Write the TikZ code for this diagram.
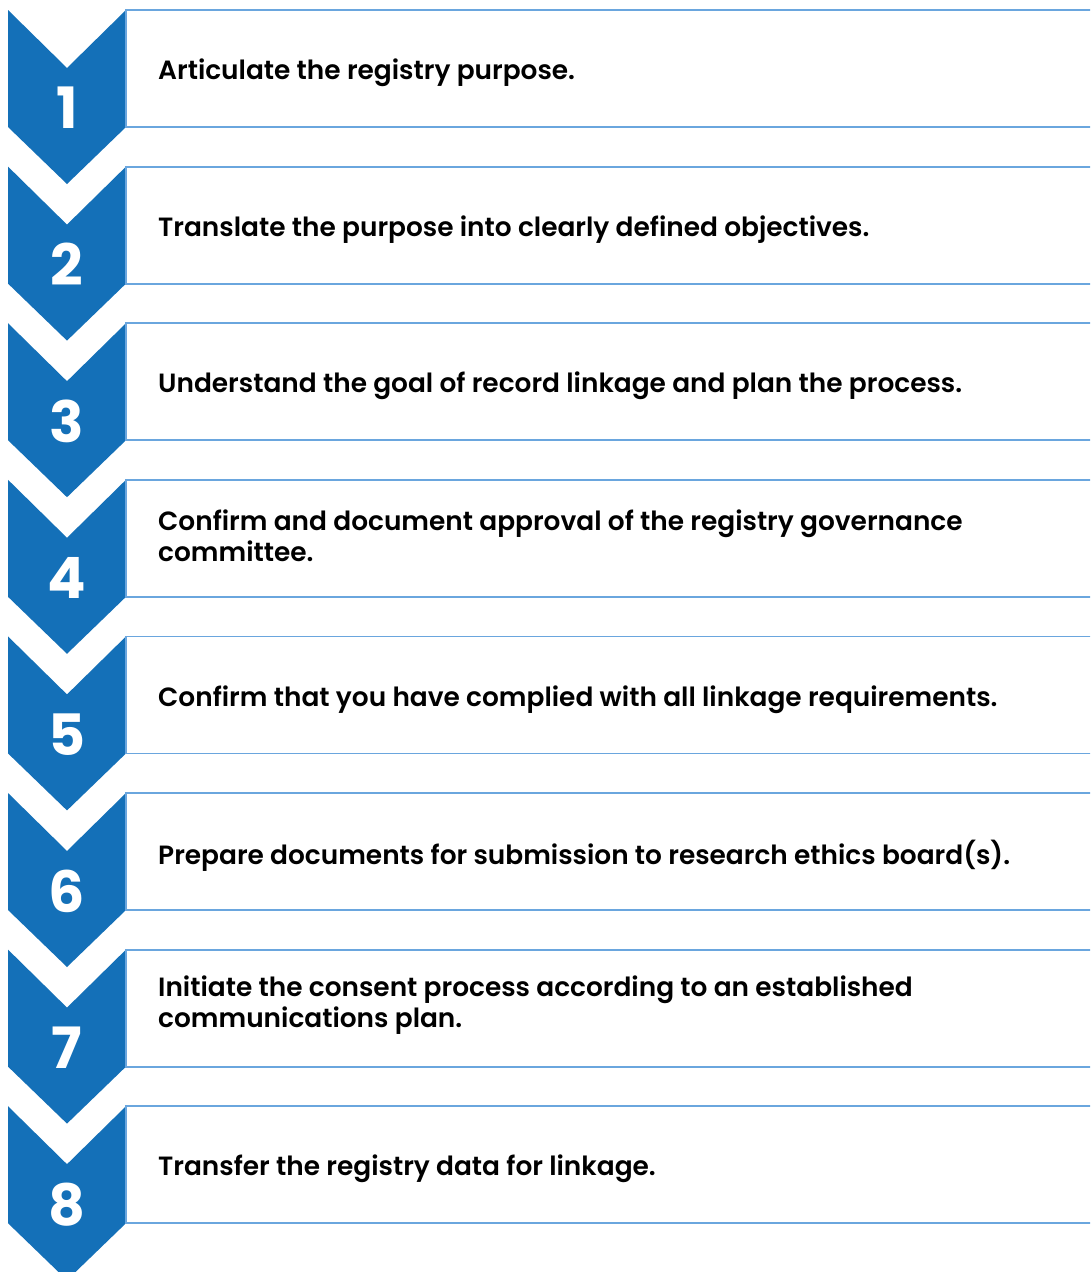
\documentclass[tikz,border=0pt]{standalone}
\usepackage{fontspec}
\setmainfont{Poppins}[BoldFont={Poppins SemiBold}]
\newfontfamily\numfont{Poppins}[UprightFont={* Bold}]
\definecolor{chevblue}{HTML}{1470B8}
\definecolor{boxline}{HTML}{6AA6DE}
\begin{document}
\begin{tikzpicture}[x=1pt,y=-1pt,
  chevron/.style={fill=chevblue,draw=none},
  stepbox/.style={draw=boxline,line width=1.8pt},
  steptext/.style={anchor=west,align=left,inner sep=0pt,
    font=\fontsize{26.4}{31}\selectfont\bfseries,text=black},
  stepnum/.style={text=white,inner sep=0pt,
    font=\numfont\fontsize{57}{57}\selectfont}]
\useasboundingbox (0,0) rectangle (1090,1272);
\clip (0,0) rectangle (1090,1272);
\fill[white] (0,0) rectangle (1090,1272);
\foreach \i/\dy/\txt in {
  1/63/{Articulate the registry purpose.},
  2/63/{Translate the purpose into clearly defined objectives.},
  3/63/{Understand the goal of record linkage and plan the process.},
  4/56/{Confirm and document approval of the registry governance\\committee.},
  5/63/{Confirm that you have complied with all linkage requirements.},
  6/63/{Prepare documents for submission to research ethics board(s).},
  7/56/{Initiate the consent process according to an established\\communications plan.},
  8/63/{Transfer the registry data for linkage.}}{
  \pgfmathsetmacro{\t}{10+156.6*(\i-1)}
  % step chevron
  \fill[chevron] (8,\t) -- (67,\t+58) -- (126,\t) -- (126,\t+117)
    -- (67,\t+174) -- (8,\t+117) -- cycle;
  % text box, open past the right edge
  \draw[stepbox] (1095,\t) -- (126,\t) -- (126,\t+117) -- (1095,\t+117);
  \node[stepnum] (num\i) at (67,\t+98) {\i};
  \node[steptext] (txt\i) at (158,\t+\dy) {\txt};
}
\end{tikzpicture}
\end{document}
